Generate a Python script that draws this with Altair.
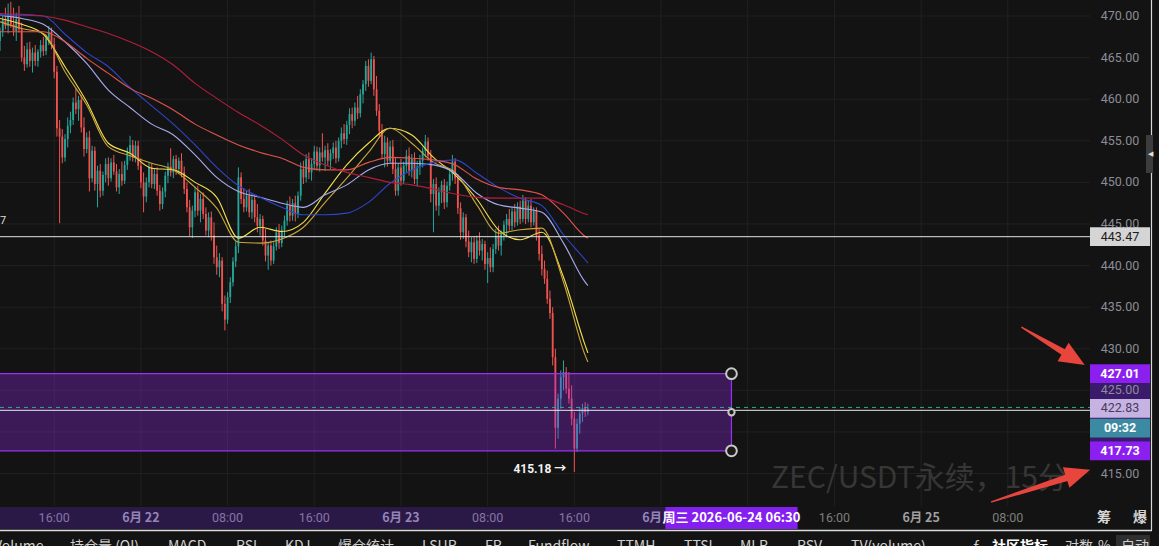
import altair as alt
import pandas as pd

# ---------------- candle data (15 min, ZEC/USDT perp) ----------------
opens = [
    467.0, 468.2, 469.5, 468.8, 470.2, 469.0, 468.2, 469.6, 468.4, 465.0,
    464.2, 466.0, 464.6, 465.6, 464.6, 465.7, 466.5, 465.8, 467.3, 468.1,
    466.6, 463.3, 456.5, 455.5, 453.0, 455.2, 456.8, 457.5, 459.6, 458.8,
    459.9, 456.6, 454.0, 455.4, 450.5, 453.8, 449.8, 451.4, 449.0, 450.9,
    452.2, 450.5, 452.4, 451.3, 449.4, 451.0, 450.2, 452.1, 453.6, 454.5,
    453.0, 454.4, 452.0, 450.0, 448.3, 450.0, 451.8, 449.8, 451.0, 449.0,
    447.4, 448.9, 450.8, 451.9, 451.2, 452.8, 451.6, 452.6, 451.2, 449.2,
    447.0, 444.6, 446.6, 448.8, 446.6, 448.0, 446.2, 444.2, 445.8, 443.6,
    441.0, 439.8, 440.6, 435.4, 433.5, 436.2, 438.0, 440.5, 442.3, 450.6,
    448.0, 447.0, 448.4, 446.4, 447.9, 445.8, 444.8, 445.6, 443.0, 441.2,
    442.4, 440.6, 442.3, 444.0, 442.7, 444.3, 445.4, 447.2, 446.0, 447.5,
    446.2, 448.4, 451.6, 450.6, 452.8, 451.2, 452.2, 453.7, 452.0, 453.6,
    453.0, 453.9, 452.6, 453.5, 454.2, 452.9, 455.0, 455.9, 455.2, 456.9,
    458.2, 457.4, 459.0, 458.3, 460.6, 461.8, 464.0, 462.2, 464.8, 461.2,
    458.6, 456.2, 453.4, 454.8, 452.6, 454.3, 451.6, 449.0, 451.8, 450.2,
    452.0, 453.2, 451.4, 452.8, 450.4, 451.9, 452.6, 453.8, 454.9, 453.2,
    448.6, 449.8, 447.2, 448.8, 449.7, 447.6, 449.6, 451.0, 452.5, 450.5,
    446.9, 444.0, 445.8, 442.9, 441.6, 442.8, 440.8, 443.0, 441.8, 442.6,
    440.2, 440.9, 439.8, 442.0, 443.6, 442.4, 443.8, 444.9, 445.6, 444.8,
    446.5, 445.2, 447.1, 445.6, 447.8, 445.6, 447.2, 445.2, 446.6, 443.6,
    441.4, 439.6, 438.4, 436.0, 434.3, 429.0, 420.5, 424.0, 426.6, 427.2,
    425.2, 424.0, 421.6, 418.0, 421.0, 422.2, 422.9, 422.4,
]
highs = [
    468.6, 470.0, 471.0, 471.5, 471.7, 471.0, 470.4, 471.2, 469.2, 466.4,
    466.8, 466.9, 466.2, 466.5, 466.0, 467.1, 467.5, 467.8, 468.8, 468.6,
    467.4, 464.0, 457.5, 456.4, 455.8, 457.8, 458.5, 460.2, 461.3, 460.4,
    460.5, 457.8, 456.0, 456.2, 454.4, 454.3, 452.0, 452.2, 451.3, 452.9,
    453.0, 452.9, 453.3, 452.2, 451.6, 452.5, 452.6, 454.2, 455.6, 455.1,
    455.0, 455.0, 452.9, 451.2, 450.6, 452.4, 452.3, 451.6, 451.8, 449.7,
    449.4, 451.3, 452.4, 454.1, 453.2, 453.3, 453.0, 453.5, 451.9, 450.0,
    447.9, 447.2, 449.5, 449.6, 448.6, 448.8, 447.0, 446.4, 446.5, 445.2,
    442.4, 441.5, 441.0, 436.4, 436.8, 438.6, 441.0, 442.9, 451.8, 451.2,
    449.3, 449.0, 449.2, 448.6, 448.5, 447.4, 446.2, 446.0, 444.4, 442.8,
    443.0, 442.8, 444.6, 445.0, 444.8, 446.0, 447.8, 448.3, 448.0, 448.4,
    448.9, 452.4, 452.6, 453.4, 453.6, 452.9, 454.4, 454.3, 454.2, 455.9,
    454.4, 454.7, 454.0, 454.8, 455.0, 455.4, 456.6, 457.0, 457.4, 458.9,
    459.0, 459.6, 460.4, 461.2, 462.3, 464.6, 464.8, 465.6, 465.2, 462.8,
    459.4, 457.0, 455.6, 455.4, 455.0, 455.1, 453.0, 452.3, 452.8, 452.5,
    453.9, 454.2, 453.4, 453.6, 452.6, 453.3, 454.2, 455.7, 455.4, 453.9,
    450.4, 450.6, 449.4, 450.2, 450.4, 450.1, 451.6, 453.3, 452.9, 451.0,
    447.6, 446.4, 446.2, 444.2, 443.4, 443.5, 443.6, 444.0, 443.2, 443.0,
    441.6, 442.2, 442.6, 444.4, 444.8, 444.2, 445.4, 446.2, 446.8, 447.0,
    447.4, 447.6, 447.8, 448.5, 448.2, 447.8, 448.0, 447.0, 447.0, 444.4,
    442.4, 440.6, 439.4, 437.0, 435.0, 430.0, 424.6, 427.4, 428.6, 427.8,
    427.2, 425.6, 422.4, 421.6, 423.0, 423.4, 423.6, 423.4,
]
lows = [
    465.8, 467.5, 468.4, 467.9, 468.6, 467.6, 467.0, 468.0, 464.5, 463.4,
    463.8, 463.9, 463.2, 464.0, 463.9, 465.0, 465.2, 465.3, 466.5, 466.0,
    462.5, 455.5, 445.1, 452.3, 452.5, 454.2, 455.9, 456.9, 458.2, 457.4,
    456.0, 453.1, 453.5, 448.9, 450.0, 449.0, 447.0, 448.2, 448.4, 450.0,
    449.6, 450.1, 450.9, 448.9, 448.6, 449.6, 449.8, 451.5, 452.6, 452.5,
    452.4, 451.5, 449.3, 446.4, 447.6, 449.4, 449.3, 449.2, 448.4, 446.6,
    446.8, 448.2, 449.9, 450.7, 450.5, 450.9, 451.0, 450.6, 448.6, 446.4,
    443.5, 443.3, 445.8, 446.0, 445.2, 445.6, 443.6, 443.4, 443.0, 440.2,
    438.9, 438.6, 434.5, 432.2, 433.0, 435.5, 437.5, 439.8, 441.5, 447.4,
    446.4, 446.5, 445.8, 445.6, 445.2, 444.0, 443.6, 442.4, 440.5, 439.5,
    440.0, 440.2, 441.8, 442.0, 442.2, 443.5, 444.8, 445.3, 445.4, 445.3,
    445.7, 447.8, 449.8, 450.0, 450.4, 450.2, 451.6, 451.4, 451.3, 452.5,
    451.4, 452.0, 451.6, 452.8, 452.3, 452.5, 454.1, 454.6, 454.5, 455.8,
    456.5, 456.8, 457.6, 457.8, 459.5, 461.0, 461.5, 461.8, 460.4, 458.0,
    455.4, 452.8, 451.8, 451.9, 452.2, 451.0, 448.4, 448.4, 449.6, 449.8,
    451.2, 450.8, 450.6, 449.8, 449.5, 450.9, 451.8, 453.0, 452.6, 447.6,
    444.0, 446.6, 446.0, 447.5, 446.8, 447.0, 449.0, 450.2, 449.8, 446.2,
    443.1, 443.2, 442.2, 441.0, 440.4, 440.2, 440.3, 441.2, 440.6, 439.5,
    437.9, 439.2, 439.2, 441.4, 441.8, 441.2, 443.0, 443.4, 444.2, 444.2,
    444.6, 444.8, 445.0, 445.2, 445.0, 445.2, 444.6, 444.8, 443.0, 440.6,
    438.8, 437.8, 435.4, 433.6, 428.0, 418.0, 419.2, 422.8, 425.0, 424.6,
    423.4, 420.8, 415.18, 417.6, 419.8, 421.2, 421.8, 422.0,
]
closes = [
    468.2, 469.5, 468.8, 470.2, 469.0, 468.2, 469.6, 468.4, 465.0, 464.2,
    466.0, 464.6, 465.6, 464.6, 465.7, 466.5, 465.8, 467.3, 468.1, 466.6,
    463.3, 456.5, 455.5, 453.0, 455.2, 456.8, 457.5, 459.6, 458.8, 459.9,
    456.6, 454.0, 455.4, 450.5, 453.8, 449.8, 451.4, 449.0, 450.9, 452.2,
    450.5, 452.4, 451.3, 449.4, 451.0, 450.2, 452.1, 453.6, 454.5, 453.0,
    454.4, 452.0, 450.0, 448.3, 450.0, 451.8, 449.8, 451.0, 449.0, 447.4,
    448.9, 450.8, 451.9, 451.2, 452.8, 451.6, 452.6, 451.2, 449.2, 447.0,
    444.6, 446.6, 448.8, 446.6, 448.0, 446.2, 444.2, 445.8, 443.6, 441.0,
    439.8, 440.6, 435.4, 433.5, 436.2, 438.0, 440.5, 442.3, 450.6, 448.0,
    447.0, 448.4, 446.4, 447.9, 445.8, 444.8, 445.6, 443.0, 441.2, 442.4,
    440.6, 442.3, 444.0, 442.7, 444.3, 445.4, 447.2, 446.0, 447.5, 446.2,
    448.4, 451.6, 450.6, 452.8, 451.2, 452.2, 453.7, 452.0, 453.6, 453.0,
    453.9, 452.6, 453.5, 454.2, 452.9, 455.0, 455.9, 455.2, 456.9, 458.2,
    457.4, 459.0, 458.3, 460.6, 461.8, 464.0, 462.2, 464.8, 461.2, 458.6,
    456.2, 453.4, 454.8, 452.6, 454.3, 451.6, 449.0, 451.8, 450.2, 452.0,
    453.2, 451.4, 452.8, 450.4, 451.9, 452.6, 453.8, 454.9, 453.2, 448.6,
    449.8, 447.2, 448.8, 449.7, 447.6, 449.6, 451.0, 452.5, 450.5, 446.9,
    444.0, 445.8, 442.9, 441.6, 442.8, 440.8, 443.0, 441.8, 442.6, 440.2,
    440.9, 439.8, 442.0, 443.6, 442.4, 443.8, 444.9, 445.6, 444.8, 446.5,
    445.2, 447.1, 445.6, 447.8, 445.6, 447.2, 445.2, 446.6, 443.6, 441.4,
    439.6, 438.4, 436.0, 434.3, 429.0, 420.5, 424.0, 426.6, 427.2, 425.2,
    424.0, 421.6, 418.0, 421.0, 422.2, 422.9, 422.4, 422.83,
]

# ---------------- moving averages (sampled every 8 candles) ----------------
ma_idx = [0, 8, 16, 24, 32, 40, 48, 56, 64, 72, 80, 88, 96, 104, 112, 120, 128,
          136, 144, 152, 160, 168, 176, 184, 192, 200, 208, 216, 217]
ma_fast = [469.7, 469.0, 467.8, 463.9, 459.7, 454.7, 453.5, 451.7, 451.5, 450.0,
           448.2, 443.3, 444.6, 444.1, 445.2, 448.7, 452.1, 454.7, 456.5, 455.7,
           453.0, 450.9, 448.0, 444.3, 443.1, 444.0, 438.6, 430.4, 429.5]
ma_gold = [469.3, 468.5, 467.9, 463.3, 459.3, 454.3, 453.2, 452.3, 451.5, 449.4,
           446.9, 442.8, 442.7, 443.2, 444.6, 447.6, 450.5, 453.6, 456.5, 454.7,
           452.4, 451.2, 447.3, 443.9, 444.3, 444.5, 438.0, 429.2, 428.4]
ma_lav = [470.1, 469.7, 469.0, 466.9, 464.3, 461.1, 459.0, 457.0, 455.7, 453.3,
          450.6, 448.9, 448.2, 447.5, 447.0, 448.5, 449.7, 451.5, 452.3, 452.3,
          452.1, 451.1, 448.7, 447.3, 446.9, 446.4, 442.7, 438.0, 437.6]
ma_blue = [470.1, 470.1, 470.0, 467.8, 465.6, 463.9, 461.4, 459.2, 457.0, 454.5,
           451.8, 449.6, 448.2, 447.0, 446.1, 446.1, 446.3, 447.6, 449.9, 451.5,
           452.4, 452.7, 451.1, 449.4, 448.1, 447.2, 443.7, 440.7, 440.3]
ma_salmon = [468.1, 468.1, 468.1, 466.9, 464.9, 463.1, 461.3, 460.1, 458.7, 457.0,
             455.7, 454.5, 453.6, 452.9, 451.8, 451.5, 451.5, 452.4, 453.0, 452.9,
             452.7, 452.1, 450.4, 449.4, 449.1, 448.5, 446.3, 443.5, 443.3]
ma_red = [470.3, 470.2, 470.0, 469.5, 468.7, 467.9, 466.9, 465.7, 464.1, 461.9,
          460.1, 458.4, 456.9, 455.2, 453.3, 452.1, 451.2, 450.6, 450.0, 449.7,
          449.2, 448.6, 448.2, 448.1, 448.1, 448.1, 447.3, 446.2, 446.1]

# ---------------- axes / annotations ----------------
grid_x = [-8, 0, 8, 16, 24, 32, 40, 48, 56, 64, 72, 80]   # hours from 6/22 00:00
x_ticks = [-8, 0, 8, 16, 24, 32, 40, 64, 72, 80]
x_labels = ["16:00", "6月 22", "08:00", "16:00", "6月 23", "08:00", "16:00",
            "16:00", "6月 25", "08:00"]
x_is_date = [False, True, False, False, True, False, False, False, True, False]
partial_t, partial_label = 48, "6月"     # "6月 24", mostly hidden by the crosshair tag
grid_y = [470, 465, 460, 455, 450, 445, 440, 435, 430, 425, 420, 415]
y_ticks = [470, 465, 460, 455, 450, 445, 440, 435, 430, 425, 415]
y_labels = ["470.00", "465.00", "460.00", "455.00", "450.00", "445.00", "440.00",
            "435.00", "430.00", "425.00", "415.00"]

hline_price = 443.47
last_price = 422.95
cross_price = 422.6
rect_t0, rect_t1 = -20.0, 54.5
rect_lo, rect_hi = 417.73, 427.01
handle_prices = [427.01, 422.37, 417.73]
low_t, low_price = 40.0, 415.18
cross_t = 54.5
cross_text = "周三 2026-06-24 06:30"

box_vals = [443.47, 427.01, 422.83, 420.45, 417.73]
box_text = ["443.47", "427.01", "422.83", "09:32", "417.73"]

arrow_tail_t = [81.3, 78.5]
arrow_tail_v = [432.58, 411.6]
arrow_base_t = [85.5, 85.9]
arrow_base_v = [429.3, 414.7]
arrow_tip_t = [87.1, 87.6]
arrow_tip_v = [428.05, 415.45]

toolbar = ["Volume", "持仓量 (OI)", "MACD", "RSI", "KDJ", "爆仓统计", "LSUR", "FR",
           "Fundflow", "TTMH", "TTSI", "MLR", "RSV", "TV(volume)", "ƒ", "社区指标",
           "对数", "%", "自动"]
toolbar_left = [-6, 70, 168, 236, 285, 338, 422, 485, 528, 617, 684, 740, 797, 851,
                972, 992, 1065, 1098, 1121]

# ---------------- build frames ----------------
T0 = -13.0
candles = pd.DataFrame(dict(t=[T0 + 0.25 * i for i in range(len(closes))],
                            o=opens, h=highs, l=lows, c=closes))
ma_names = ["fast", "gold", "lav", "blue", "salmon", "red"]
ma_vals = [ma_fast, ma_gold, ma_lav, ma_blue, ma_salmon, ma_red]
ma_colors = ["#f3e04a", "#c9a53a", "#a9acef", "#2e46c9", "#e0544b", "#b01e3c"]
rows = []
for nm, vals in zip(ma_names, ma_vals):
    for i, v in zip(ma_idx, vals):
        rows.append(dict(t=T0 + 0.25 * i, v=v, s=nm))
ma_df = pd.DataFrame(rows)

BG = "#131313"
GRID = "#212121"
UP, DN = "#26a69a", "#ef5350"
NUM = "Roboto, 'Noto Sans CJK SC', sans-serif"
CJK = "'Noto Sans CJK SC', Roboto, sans-serif"
W, H = 1088, 506

xs = alt.Scale(domain=[-13, 87.4], nice=False, zero=False)
ys = alt.Scale(domain=[411.1, 471.92], nice=False, zero=False)


def X(f):
    return alt.X(f, type="quantitative", scale=xs, axis=None)


def Y(f):
    return alt.Y(f, type="quantitative", scale=ys, axis=None)


one = pd.DataFrame({"a": [0]})
layers = []

# grid
layers.append(alt.Chart(pd.DataFrame({"t": grid_x})).mark_rule(color=GRID, strokeWidth=1)
              .encode(x=X("t"), y=alt.value(0), y2=alt.value(H)))
layers.append(alt.Chart(pd.DataFrame({"v": grid_y})).mark_rule(color=GRID, strokeWidth=1)
              .encode(y=Y("v"), x=alt.value(0), x2=alt.value(1090)))

# watermark
layers.append(alt.Chart(one).mark_text(text="ZEC/USDT永续，15分", font=CJK, fontSize=30,
                                       color="#363636", align="left", baseline="middle")
              .encode(x=alt.value(771), y=alt.value(479)))

# candles
col = alt.condition("datum.c >= datum.o", alt.value(UP), alt.value(DN))
layers.append(alt.Chart(candles).mark_rule(strokeWidth=1)
              .encode(x=X("t"), y=Y("l"), y2=alt.Y2("h"), color=col))
layers.append(alt.Chart(candles).mark_rule(strokeWidth=1.8)
              .encode(x=X("t"), y=Y("o"), y2=alt.Y2("c"), color=col))

# moving averages
layers.append(alt.Chart(ma_df).mark_line(strokeWidth=1.1, interpolate="monotone")
              .encode(x=X("t"), y=Y("v"),
                      color=alt.Color("s:N", scale=alt.Scale(domain=ma_names, range=ma_colors),
                                      legend=None)))

# horizontal line 443.47
layers.append(alt.Chart(pd.DataFrame({"v": [hline_price]})).mark_rule(color="#e4e4e4", strokeWidth=1)
              .encode(y=Y("v"), x=alt.value(0), x2=alt.value(1090)))
layers.append(alt.Chart(pd.DataFrame({"v": [hline_price]})).mark_text(text="7", color="#dddddd", fontSize=11,
                                                                       font=NUM, align="left", dy=-16)
              .encode(y=Y("v"), x=alt.value(0)))

# rectangle drawing
draw_df = pd.DataFrame({"x0": [rect_t0], "x1": [rect_t1], "y0": [rect_lo], "y1": [rect_hi]})
layers.append(alt.Chart(draw_df).mark_rect(fill="#9c27f5", fillOpacity=0.3, stroke="#9a32f2", strokeWidth=1.2)
              .encode(x=X("x0"), x2=alt.X2("x1"), y=Y("y0"), y2=alt.Y2("y1")))

# price lines
layers.append(alt.Chart(pd.DataFrame({"v": [last_price]})).mark_rule(color="#2bb08f", strokeWidth=1, strokeDash=[4, 4])
              .encode(y=Y("v"), x=alt.value(0), x2=alt.value(1090)))
layers.append(alt.Chart(pd.DataFrame({"v": [cross_price]})).mark_rule(color="#e8e8e8", strokeWidth=1)
              .encode(y=Y("v"), x=alt.value(0), x2=alt.value(1090)))

# handles
hd = pd.DataFrame({"t": [rect_t1] * 3, "v": handle_prices, "k": ["c", "m", "c"]})
layers.append(alt.Chart(hd).transform_filter("datum.k == 'c'")
              .mark_point(shape="circle", filled=True, fill="#1b1b1b", stroke="#c9c9c9", strokeWidth=2,
                          size=115, opacity=1)
              .encode(x=X("t"), y=Y("v")))
layers.append(alt.Chart(hd).transform_filter("datum.k == 'm'")
              .mark_point(shape="circle", filled=True, fill="#1b1b1b", stroke="#c9c9c9", strokeWidth=2,
                          size=40, opacity=1)
              .encode(x=X("t"), y=Y("v")))

# low label
layers.append(alt.Chart(pd.DataFrame({"t": [low_t], "v": [low_price]}))
              .mark_text(text=f"{low_price:.2f} →", color="#f2f2f2", fontSize=12, fontWeight="bold",
                         font=NUM, align="right", baseline="middle", dx=-8, dy=-3)
              .encode(x=X("t"), y=Y("v")))

# x axis strip
layers.append(alt.Chart(draw_df).mark_rect(fill="#2a1946")
              .encode(x=X("x0"), x2=alt.X2("x1"), y=alt.value(507), y2=alt.value(529)))
xl = pd.DataFrame({"t": x_ticks, "lab": x_labels, "d": x_is_date})
for is_date in (False, True):
    layers.append(alt.Chart(xl).transform_filter(f"datum.d == {str(is_date).lower()}")
                  .mark_text(fontSize=12.5, font=CJK if is_date else NUM,
                             fontWeight="bold" if is_date else "normal", baseline="middle", align="center")
                  .encode(x=X("t"), y=alt.value(518), text="lab:N",
                          color=alt.condition(f"datum.t < {rect_t1}",
                                              alt.value("#9584b8" if is_date else "#8675a6"),
                                              alt.value("#a0a0a0" if is_date else "#7e7e7e"))))
layers.append(alt.Chart(pd.DataFrame({"t": [partial_t], "lab": [partial_label]}))
              .mark_text(fontSize=12.5, font=CJK, fontWeight="bold", color="#9584b8",
                         baseline="middle", align="right", dx=1)
              .encode(x=X("t"), y=alt.value(518), text="lab:N"))
cd = pd.DataFrame({"t": [cross_t], "lab": [cross_text]})
layers.append(alt.Chart(cd).transform_calculate(a="datum.t - 6.1", b="datum.t + 6.1")
              .mark_rect(fill="#8420ef")
              .encode(x=X("a"), x2=alt.X2("b"), y=alt.value(507), y2=alt.value(529)))
layers.append(alt.Chart(cd).mark_text(color="#ffffff", fontSize=13, fontWeight="bold", font=CJK,
                                      baseline="middle", align="center")
              .encode(x=X("t"), y=alt.value(518), text="lab:N"))
for txt, px in (("筹", 1104), ("爆", 1140)):
    layers.append(alt.Chart(one).mark_text(text=txt, color="#d6d6d6", fontSize=14, fontWeight="bold",
                                           font=CJK, baseline="middle", align="center")
                  .encode(x=alt.value(px), y=alt.value(518)))

# right axis
layers.append(alt.Chart(draw_df).mark_rect(fill="#3a1a6b")
              .encode(x=alt.value(1090), x2=alt.value(1150), y=Y("y0"), y2=alt.Y2("y1")))
layers.append(alt.Chart(pd.DataFrame({"v": y_ticks, "lab": y_labels}))
              .mark_text(color="#8b8d97", fontSize=12.5, font=NUM, baseline="middle", align="center")
              .encode(x=alt.value(1120), y=Y("v"), text="lab:N"))
box_fill = ["#d5d5d5", "#8b1ff0", "#c7b3e2", "#3c8aa1", "#8b1ff0"]
box_ink = ["#1c1c1c", "#ffffff", "#463a5e", "#ffffff", "#ffffff"]
box_weight = ["normal", "bold", "normal", "bold", "bold"]
for v, lab, fill, ink, wt in zip(box_vals, box_text, box_fill, box_ink, box_weight):
    bdf = pd.DataFrame({"v": [v], "lab": [lab]})
    layers.append(alt.Chart(bdf).transform_calculate(lo="datum.v - 1.13", hi="datum.v + 1.13")
                  .mark_rect(fill=fill)
                  .encode(x=alt.value(1090), x2=alt.value(1150), y=Y("lo"), y2=alt.Y2("hi")))
    layers.append(alt.Chart(bdf)
                  .mark_text(fontSize=12.5, font=NUM, fontWeight=wt, color=ink,
                             baseline="middle", align="center")
                  .encode(x=alt.value(1120), y=Y("v"), text="lab:N"))

# red arrows
ARROW = "#e8463d"
head_path = "M0,0L-0.9,2.1L0.9,2.1Z"
angles = [120.8, 72.2]
for j in range(2):
    shaft = pd.DataFrame({"t": [arrow_tail_t[j], arrow_base_t[j]],
                          "v": [arrow_tail_v[j], arrow_base_v[j]], "w": [0, 1]})
    layers.append(alt.Chart(shaft).mark_trail(color=ARROW)
                  .encode(x=X("t"), y=Y("v"),
                          size=alt.Size("w:Q", scale=alt.Scale(domain=[0, 1], range=[1.5, 7]), legend=None)))
    layers.append(alt.Chart(pd.DataFrame({"t": [arrow_tip_t[j]], "v": [arrow_tip_v[j]]}))
                  .mark_point(shape=head_path, filled=True, color=ARROW, opacity=1, size=576,
                              angle=angles[j])
                  .encode(x=X("t"), y=Y("v")))

# chrome: separator, right border, handle, toolbar
layers.append(alt.Chart(one).mark_rule(color="#dcdcdc", strokeWidth=1.5)
              .encode(x=alt.value(0), x2=alt.value(1152), y=alt.value(530.5)))
layers.append(alt.Chart(one).mark_rule(color="#d8d8d8", strokeWidth=1.2)
              .encode(x=alt.value(1151.5), y=alt.value(0), y2=alt.value(530)))
layers.append(alt.Chart(one).mark_rect(fill="#3c3c3c")
              .encode(x=alt.value(1146), x2=alt.value(1153), y=alt.value(135), y2=alt.value(173)))
layers.append(alt.Chart(one).mark_text(text="◀", color="#e0e0e0", fontSize=7, align="center", baseline="middle")
              .encode(x=alt.value(1150), y=alt.value(154)))
layers.append(alt.Chart(one).mark_rect(fill="#2f2f2f")
              .encode(x=alt.value(1116), x2=alt.value(1150), y=alt.value(535), y2=alt.value(546)))
for lab, px in zip(toolbar, toolbar_left):
    bold = lab == "社区指标"
    layers.append(alt.Chart(one).mark_text(text=lab, color="#ffffff" if bold else "#cfcfcf", fontSize=14,
                                           fontWeight="bold" if bold else "normal", font=CJK,
                                           align="left", baseline="middle")
                  .encode(x=alt.value(px), y=alt.value(547)))

chart = (alt.layer(*layers)
         .properties(width=W, height=H, background=BG,
                     padding={"left": 0, "top": 0, "right": 71, "bottom": 40},
                     autosize=alt.AutoSizeParams(type="none"))
         .configure_view(stroke=None, fill=BG))

chart.save("out.html", embed_options={"renderer": "svg", "actions": False})
